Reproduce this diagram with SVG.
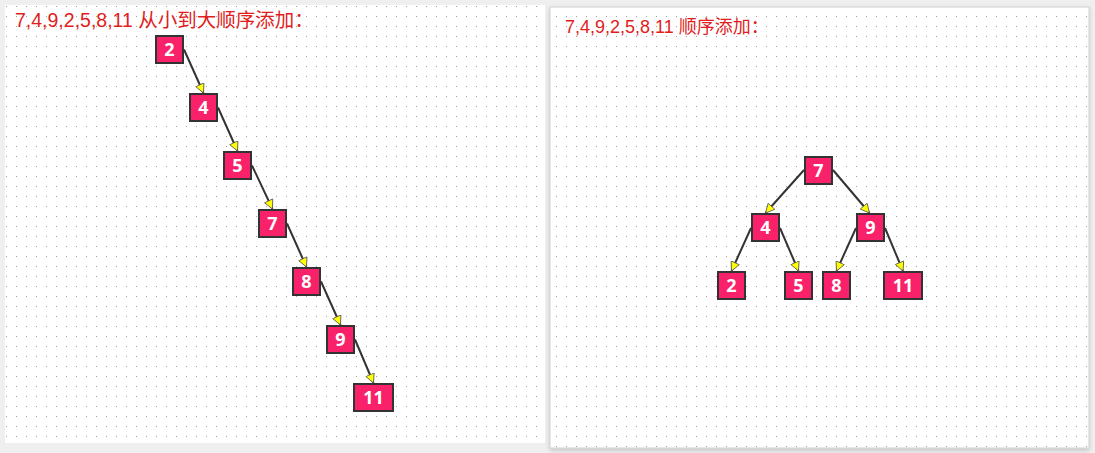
<svg xmlns="http://www.w3.org/2000/svg" width="1095" height="453" viewBox="0 0 1095 453">
<style>
.title{font-family:"Liberation Sans","Noto Sans CJK SC",sans-serif;fill:#e11d1d}
.node rect{fill:#f8216a;stroke:#333;stroke-width:2}
.node text{font-family:"Open Sans","DejaVu Sans",sans-serif;font-size:18px;font-weight:700;fill:#fff;text-anchor:middle}
.edge{stroke:#333;stroke-width:2;fill:none;marker-end:url(#arr)}
</style>
<defs>
<pattern id="dotsL" patternUnits="userSpaceOnUse" x="6" y="6" width="10" height="10"><rect x="0" y="0" width="1" height="1" fill="#a0a0a0"/></pattern>
<pattern id="dotsR" patternUnits="userSpaceOnUse" x="556" y="6" width="10" height="10"><rect x="0" y="0" width="1" height="1" fill="#a0a0a0"/></pattern>
<marker id="arr" markerUnits="userSpaceOnUse" viewBox="0 0 10 10" refX="9.5" refY="5" markerWidth="10" markerHeight="10" orient="auto"><path d="M0.5,0.5 L9.5,5 L0.5,9.5 z" fill="#ffff00" stroke="#555" stroke-width="0.8"/></marker>
<filter id="sh" x="-5%" y="-5%" width="110%" height="112%"><feDropShadow dx="0" dy="2" stdDeviation="2" flood-color="#000" flood-opacity="0.18"/></filter>
</defs>
<rect x="0" y="0" width="1095" height="453" fill="#efefef"/>
<g id="panel-left">
<rect x="5" y="5" width="540" height="438" fill="#ffffff"/>
<rect x="5" y="5" width="540" height="438" fill="url(#dotsL)"/>
</g>
<g id="panel-right">
<rect x="550" y="7" width="539" height="441" fill="#ffffff" stroke="#cfcfcf" stroke-width="1" filter="url(#sh)"/>
<rect x="551" y="8" width="537" height="439" fill="url(#dotsR)"/>
</g>
<text class="title" x="15" y="27" font-size="19.5">7,4,9,2,5,8,11 从小到大顺序添加：</text>
<text class="title" x="565" y="33" font-size="18">7,4,9,2,5,8,11 顺序添加：</text>
<g id="connectors">
<line class="edge" x1="184" y1="49.5" x2="203.5" y2="93"/>
<line class="edge" x1="218" y1="107.5" x2="237.5" y2="151"/>
<line class="edge" x1="252" y1="165.5" x2="272.5" y2="209"/>
<line class="edge" x1="287" y1="223.5" x2="306.5" y2="267"/>
<line class="edge" x1="321" y1="281.5" x2="340.5" y2="325"/>
<line class="edge" x1="355" y1="339.5" x2="373.5" y2="383"/>
<line class="edge" x1="804" y1="170" x2="765.5" y2="213"/>
<line class="edge" x1="833" y1="170" x2="869.5" y2="213"/>
<line class="edge" x1="751" y1="228" x2="731.5" y2="271"/>
<line class="edge" x1="780" y1="228" x2="798.5" y2="271"/>
<line class="edge" x1="856" y1="228" x2="836.5" y2="271"/>
<line class="edge" x1="885" y1="228" x2="903" y2="271"/>
</g>
<g id="L2" class="node"><rect x="156" y="36" width="27" height="27"/><text x="169.5" y="56">2</text></g>
<g id="L4" class="node"><rect x="190" y="94" width="27" height="27"/><text x="203.5" y="114">4</text></g>
<g id="L5" class="node"><rect x="224" y="152" width="27" height="27"/><text x="237.5" y="172">5</text></g>
<g id="L7" class="node"><rect x="259" y="210" width="27" height="27"/><text x="272.5" y="230">7</text></g>
<g id="L8" class="node"><rect x="293" y="268" width="27" height="27"/><text x="306.5" y="288">8</text></g>
<g id="L9" class="node"><rect x="327" y="326" width="27" height="27"/><text x="340.5" y="346">9</text></g>
<g id="L11" class="node"><rect x="354" y="384" width="39" height="27"/><text x="373.5" y="404">11</text></g>
<g id="R7" class="node"><rect x="805" y="157" width="27" height="27"/><text x="818.5" y="177">7</text></g>
<g id="R4" class="node"><rect x="752" y="214" width="27" height="27"/><text x="765.5" y="234">4</text></g>
<g id="R9" class="node"><rect x="857" y="214" width="27" height="27"/><text x="870.5" y="234">9</text></g>
<g id="R2" class="node"><rect x="718" y="272" width="27" height="27"/><text x="731.5" y="292">2</text></g>
<g id="R5" class="node"><rect x="785" y="272" width="27" height="27"/><text x="798.5" y="292">5</text></g>
<g id="R8" class="node"><rect x="823" y="272" width="27" height="27"/><text x="836.5" y="292">8</text></g>
<g id="R11" class="node"><rect x="884" y="272" width="38" height="27"/><text x="903" y="292">11</text></g>
</svg>
